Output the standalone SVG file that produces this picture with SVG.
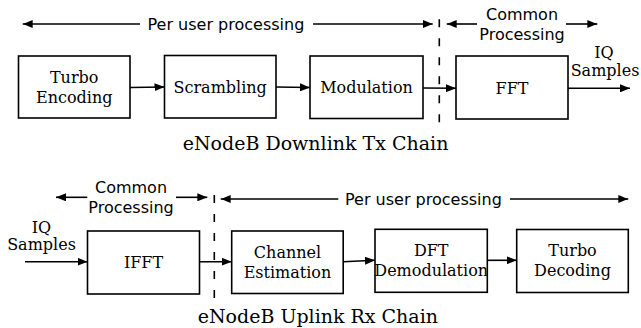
<svg xmlns="http://www.w3.org/2000/svg" width="641" height="328" viewBox="0 0 641 328">
<style>
.box{fill:#fff;stroke:#000;stroke-width:1.6}
.lbl{font-family:"DejaVu Serif",serif;font-size:16px;fill:#000;text-anchor:middle}
.cap{font-family:"DejaVu Serif",serif;font-size:19px;fill:#000}
.sans{font-family:"DejaVu Sans",sans-serif;font-size:16px;fill:#000}
.ln{stroke:#000;stroke-width:1.6;fill:none}
.dash{stroke:#000;stroke-width:1.6;stroke-dasharray:8 11;fill:none}
</style>
<defs>
<marker id="ah" viewBox="0 0 10 8" refX="10" refY="4" markerWidth="10" markerHeight="8" markerUnits="userSpaceOnUse" orient="auto">
<path d="M0,0 L10,4 L0,8 z" fill="#000"/>
</marker>
</defs>
<g id="tx-turbo"><rect class="box" x="18.5" y="56" width="111.5" height="62"/><text class="lbl" x="74.2" y="82.7">Turbo</text><text class="lbl" x="74.2" y="102.7">Encoding</text></g>
<g id="tx-scrambling"><rect class="box" x="164.5" y="55.5" width="111.5" height="62.5"/><text class="lbl" x="220.2" y="92.7">Scrambling</text></g>
<g id="tx-modulation"><rect class="box" x="310" y="56" width="113" height="62.5"/><text class="lbl" x="366.5" y="92.7">Modulation</text></g>
<g id="tx-fft"><rect class="box" x="456" y="56" width="112" height="63"/><text class="lbl" x="512" y="93.5">FFT</text></g>
<g id="rx-ifft"><rect class="box" x="87.5" y="231" width="112" height="63"/><text class="lbl" x="143.5" y="267.5">IFFT</text></g>
<g id="rx-channel"><rect class="box" x="231.7" y="231" width="111.5" height="62.5"/><text class="lbl" x="287.5" y="257.5">Channel</text><text class="lbl" x="287.5" y="277.5">Estimation</text></g>
<g id="rx-dft"><rect class="box" x="375" y="229.3" width="112.3" height="63"/><text class="lbl" x="431.2" y="256">DFT</text><text class="lbl" x="431.2" y="276">Demodulation</text></g>
<g id="rx-turbo"><rect class="box" x="516.7" y="229.5" width="111.6" height="63"/><text class="lbl" x="572.5" y="256">Turbo</text><text class="lbl" x="572.5" y="276">Decoding</text></g>
<g id="labels">
<text class="sans" x="147.5" y="30">Per user processing</text>
<text class="sans" x="522" y="20" text-anchor="middle">Common</text>
<text class="sans" x="522" y="39.5" text-anchor="middle">Processing</text>
<text class="lbl" x="604" y="58" font-size="15">IQ</text>
<text class="lbl" x="605" y="75.5" font-size="15">Samples</text>
<text class="cap" x="182.7" y="150">eNodeB Downlink Tx Chain</text>
<text class="sans" x="131" y="193.3" text-anchor="middle">Common</text>
<text class="sans" x="131" y="212.7" text-anchor="middle">Processing</text>
<text class="sans" x="345" y="204.5">Per user processing</text>
<text class="lbl" x="41.5" y="232.7" font-size="15">IQ</text>
<text class="lbl" x="41.5" y="250" font-size="15">Samples</text>
<text class="cap" x="197.7" y="323.3">eNodeB Uplink Rx Chain</text>
</g>
<g id="connectors">
<line class="ln" x1="140" y1="24" x2="22.7" y2="24" marker-end="url(#ah)"/>
<line class="ln" x1="313" y1="24" x2="432.7" y2="24" marker-end="url(#ah)"/>
<line class="ln" x1="477" y1="24" x2="446.7" y2="24" marker-end="url(#ah)"/>
<line class="ln" x1="566" y1="24" x2="597.3" y2="24" marker-end="url(#ah)"/>
<line class="dash" x1="439.3" y1="19.3" x2="439.3" y2="126"/>
<line class="ln" x1="130" y1="87.5" x2="164.5" y2="87" marker-end="url(#ah)"/>
<line class="ln" x1="276" y1="87" x2="310" y2="87.5" marker-end="url(#ah)"/>
<line class="ln" x1="423" y1="88" x2="456" y2="88.3" marker-end="url(#ah)"/>
<line class="ln" x1="568" y1="88.3" x2="630" y2="88.3" marker-end="url(#ah)"/>
<line class="ln" x1="87.3" y1="197.3" x2="56" y2="197.3" marker-end="url(#ah)"/>
<line class="ln" x1="176" y1="197.3" x2="207.3" y2="197.3" marker-end="url(#ah)"/>
<line class="ln" x1="338.3" y1="199" x2="220.7" y2="199" marker-end="url(#ah)"/>
<line class="ln" x1="510" y1="199" x2="628.3" y2="199" marker-end="url(#ah)"/>
<line class="dash" x1="214.3" y1="195" x2="214.3" y2="300"/>
<line class="ln" x1="25" y1="261.7" x2="87.5" y2="261.7" marker-end="url(#ah)"/>
<line class="ln" x1="199.5" y1="261.7" x2="231.7" y2="261.7" marker-end="url(#ah)"/>
<line class="ln" x1="343.2" y1="261.7" x2="375" y2="260.3" marker-end="url(#ah)"/>
<line class="ln" x1="487.3" y1="260.3" x2="516.7" y2="260.3" marker-end="url(#ah)"/>
</g>
</svg>
